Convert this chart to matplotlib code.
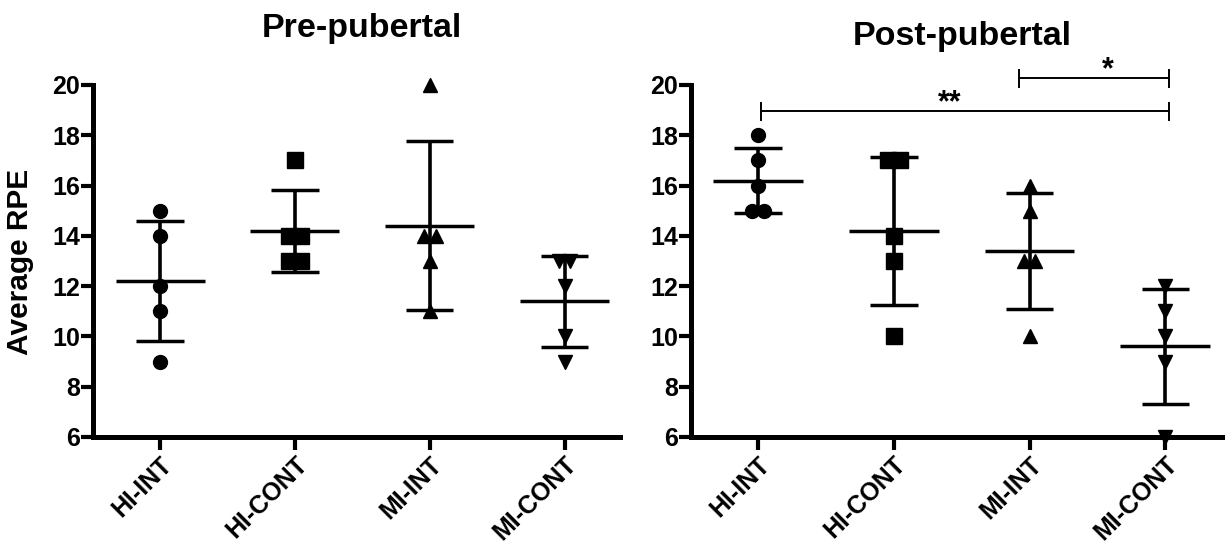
import numpy as np
import matplotlib
matplotlib.use("Agg")
from matplotlib import pyplot as plt

plt.rcParams['font.family'] = ['Liberation Sans', 'DejaVu Sans']
plt.rcParams['font.weight'] = 'bold'

# grupos e valores (RPE medio por sujeito)
grupos = ["HI-INT", "HI-CONT", "MI-INT", "MI-CONT"]
marcadores = ['o', 's', '^', 'v']

pre_hi_int = [15, 14, 12, 11, 9]
pre_hi_cont = [17, 14, 14, 13, 13]
pre_mi_int = [20, 14, 14, 13, 11]
pre_mi_cont = [13, 13, 12, 10, 9]

post_hi_int = [18, 17, 16, 15, 15]
post_hi_cont = [17, 17, 14, 13, 10]
post_mi_int = [16, 15, 13, 13, 10]
post_mi_cont = [12, 11, 10, 9, 6]

yticks = [6, 8, 10, 12, 14, 16, 18, 20]

# comparacoes significativas no pos-pubertal: (grupo a, grupo b, simbolo)
comparacoes_post = [(0, 3, "**"), (2, 3, "*")]


def offsets(valores, w=0.085):
    # espalha pontos repetidos lado a lado (estilo Prism)
    valores = np.array(valores)
    off = np.zeros(len(valores))
    for v in np.unique(valores):
        idx = np.where(valores == v)[0]
        n = len(idx)
        off[idx] = (np.arange(n) - (n - 1) / 2.0) * w
    return off


def painel(ax, dados, xlim):
    for i, vals in enumerate(dados):
        vals = np.array(vals, dtype=float)
        media = vals.mean()
        dp = vals.std(ddof=1)
        ms = {'o': 10, 's': 11, '^': 10.5, 'v': 10.5}[marcadores[i]]
        ax.plot(i + offsets(vals), vals, linestyle='none', marker=marcadores[i],
                color='black', markersize=ms, clip_on=False, zorder=4)
        ax.vlines(i, media - dp, media + dp, color='black', linewidth=2.6, zorder=3)
        ax.hlines(media, i - 0.33, i + 0.33, color='black', linewidth=2.5, zorder=3)
        ax.hlines([media - dp, media + dp], i - 0.175, i + 0.175, color='black',
                  linewidth=2.5, zorder=3)

    ax.set_xlim(xlim)
    ax.set_ylim(6, 20)
    ax.set_yticks(yticks)
    ax.set_yticklabels([str(t) for t in yticks], fontsize=18, fontweight='bold')
    ax.set_xticks(range(len(grupos)))
    ax.set_xticklabels(grupos, fontsize=18, fontweight='bold', rotation=45,
                       ha='right', rotation_mode='anchor')
    ax.spines['top'].set_visible(False)
    ax.spines['right'].set_visible(False)
    ax.spines['left'].set_linewidth(3.6)
    ax.spines['bottom'].set_linewidth(3.6)
    ax.tick_params(axis='both', length=9, width=3, pad=2)
    ax.tick_params(axis='y', pad=0.5)


fig = plt.figure(figsize=(12.25, 5.54), dpi=100)
ax1 = fig.add_axes([93 / 1225, 117 / 554, 527 / 1225, 352 / 554])
ax2 = fig.add_axes([691 / 1225, 117 / 554, 534 / 1225, 352 / 554])

painel(ax1, [pre_hi_int, pre_hi_cont, pre_mi_int, pre_mi_cont], (-0.497, 3.41))
painel(ax2, [post_hi_int, post_hi_cont, post_mi_int, post_mi_cont], (-0.494, 3.44))

# barras de significancia
alturas = {"**": 18.97, "*": 20.28}
for a, b, simb in comparacoes_post:
    y = alturas[simb]
    xa = a + (0.02 if simb == "**" else -0.08)
    xb = b + 0.03
    ax2.plot([xa, xb], [y, y], color='black', linewidth=1.4, clip_on=False)
    ax2.plot([xa, xa], [y - 0.35, y + 0.3], color='black', linewidth=1.4, clip_on=False)
    ax2.plot([xb, xb], [y - 0.35, y + 0.3], color='black', linewidth=1.4, clip_on=False)
    xt = (xa + xb) / 2.0 + (-0.11 if simb == "**" else 0.1)
    ax2.text(xt, y + 0.3, simb, ha='center', va='center', fontsize=22,
             fontweight='bold', clip_on=False)

fig.text(362 / 1225, 1 - 28 / 554, "Pre-pubertal", ha='center', va='center',
         fontsize=24.5, fontweight='bold')
fig.text(962 / 1225, 1 - 37 / 554, "Post-pubertal", ha='center', va='center',
         fontsize=24.5, fontweight='bold')
fig.text(20 / 1225, 1 - 262 / 554, "Average RPE", ha='center', va='center',
         rotation=90, fontsize=21.5, fontweight='bold')

plt.savefig("out.png", dpi=100)
